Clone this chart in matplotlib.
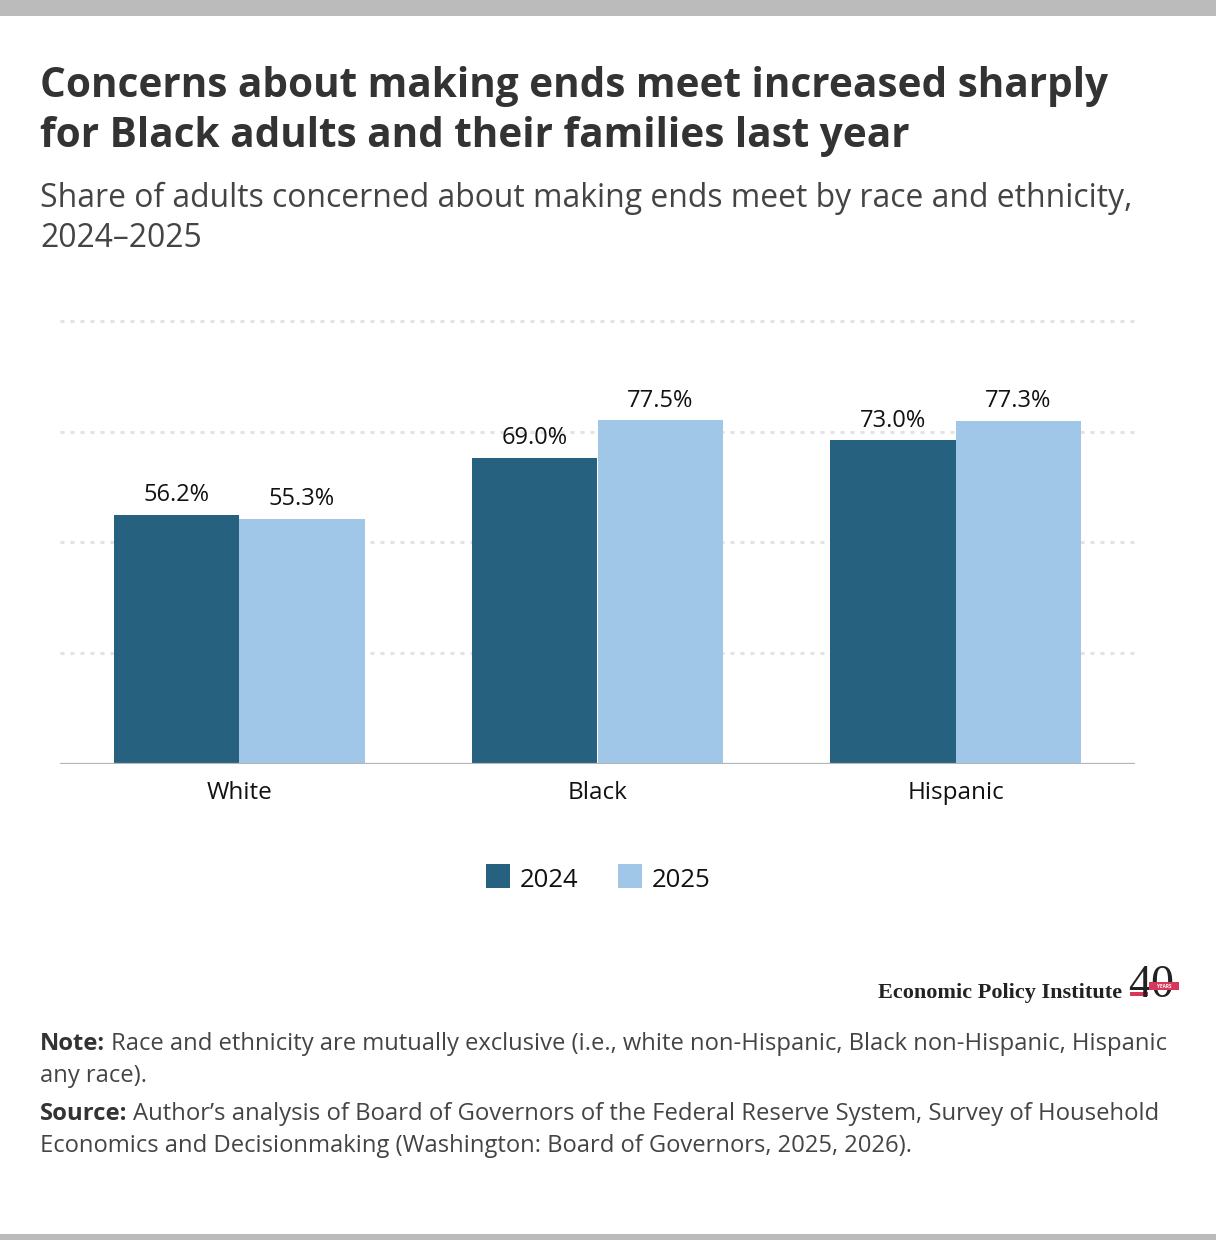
import matplotlib
matplotlib.use("Agg")
import matplotlib.pyplot as plt
from matplotlib.patches import Rectangle
import numpy as np

plt.rcParams['font.family'] = ['Open Sans', 'DejaVu Sans']
plt.rcParams['lines.scale_dashes'] = False

categories = ["White", "Black", "Hispanic"]
years = ["2024", "2025"]
values_2024 = [56.2, 69.0, 73.0]
values_2025 = [55.3, 77.5, 77.3]
yticks = [0, 25, 50, 75, 100]

C24 = "#26627f"
C25 = "#a0c6e8"
SERIF = ["Liberation Serif", "DejaVu Serif"]

W, H = 1216, 1240
fig = plt.figure(figsize=(W / 100, H / 100), dpi=100)
renderer = fig.canvas.get_renderer()


def fx(px):
    return px / W


def fy(py):
    return 1 - py / H


def fit(t, width_px):
    """Scale a text's font size so that it spans width_px; return the size."""
    w = t.get_window_extent(renderer).width
    t.set_fontsize(t.get_fontsize() * width_px / w)
    return t.get_fontsize()


# top / bottom gray bars
fig.add_artist(Rectangle((0, fy(16)), 1, 16 / H, transform=fig.transFigure, color="#bbbbbb", lw=0))
fig.add_artist(Rectangle((0, 0), 1, 6 / H, transform=fig.transFigure, color="#bbbbbb", lw=0))

# title
t1 = fig.text(fx(40), fy(97), "Concerns about making ends meet increased sharply", fontsize=26,
              fontweight="bold", color="#333333", va="baseline", ha="left")
ts = fit(t1, 1072)
fig.text(fx(40), fy(147), "for Black adults and their families last year", fontsize=ts,
         fontweight="bold", color="#333333", va="baseline", ha="left")
s1 = fig.text(fx(40), fy(207), "Share of adults concerned about making ends meet by race and ethnicity,",
              fontsize=19, color="#444444", va="baseline", ha="left")
ss = fit(s1, 1094)
fig.text(fx(40), fy(247), "2024\u20132025", fontsize=ss, color="#444444", va="baseline", ha="left")

# axes
ax_left, ax_right = 60, 1135
ax_top, ax_bottom = 319, 764
ax = fig.add_axes([fx(ax_left), fy(ax_bottom), (ax_right - ax_left) / W, (ax_bottom - ax_top) / H])
x = np.arange(len(categories))
bw = 0.35
b1 = ax.bar(x - bw / 2, values_2024, bw, color=C24, zorder=3, label=years[0])
b2 = ax.bar(x + bw / 2, values_2025, bw, color=C25, zorder=3, label=years[1])
ax.set_xlim(-0.5, 2.5)
ax.set_ylim(0, 100.4)
for t in yticks[1:]:
    ax.axhline(t, color="#e3e3e3", lw=2.2, linestyle=(0, (2.9, 4.3)), dash_capstyle="butt", zorder=1)
ax.axhline(0, color="#b5b5b5", lw=1.6, zorder=4)
for bars, vals in ((b1, values_2024), (b2, values_2025)):
    for rect, v in zip(bars, vals):
        ax.annotate(f"{v:.1f}%", (rect.get_x() + rect.get_width() / 2, v), xytext=(0, 10),
                    textcoords="offset points", ha="center", va="baseline", fontsize=17,
                    color="#111111")
for s in ax.spines.values():
    s.set_visible(False)
ax.set_yticks([])
ax.set_xticks(x)
ax.set_xticklabels(categories, fontsize=17.5, color="#111111")
ax.tick_params(axis="x", length=0, pad=12)

# legend
for sx, tx, lab, col in ((486, 520, years[0], C24), (618, 652, years[1], C25)):
    fig.add_artist(Rectangle((fx(sx), fy(888)), 24 / W, 24 / H, transform=fig.transFigure, color=col, lw=0))
    fig.text(fx(tx), fy(887), lab, fontsize=18.5, color="#111111", va="baseline", ha="left")

# logo
lg = fig.text(fx(1122), fy(998), "Economic Policy Institute", fontsize=16, fontweight="bold",
              family=SERIF, color="#222222", ha="right", va="baseline")
fit(lg, 245)
fig.add_artist(Rectangle((fx(1130), fy(996)), 18 / W, 4 / H, transform=fig.transFigure,
                         color="#d6375a", lw=0, zorder=1))
fig.text(fx(1151), fy(997), "40", fontsize=33, family=SERIF,
         color="#222222", ha="center", va="baseline", zorder=2)
fig.add_artist(Rectangle((fx(1149), fy(990)), 30 / W, 8 / H, transform=fig.transFigure,
                         color="#d6375a", lw=0, zorder=3))
fig.text(fx(1164), fy(988.5), "YEARS", fontsize=3.4, color="white", ha="center", va="baseline",
         fontweight="bold", zorder=4)


# notes
def mixed(px, py, bold, rest, right_px, size=14.5):
    t = fig.text(fx(px), fy(py), bold, fontsize=size, fontweight="bold", color="#333333",
                 va="baseline", ha="left")
    r = fig.text(fx(px), fy(py), rest, fontsize=size, color="#444444", va="baseline", ha="left")
    gap = 5
    total = t.get_window_extent(renderer).width + gap + r.get_window_extent(renderer).width
    k = (right_px - px) / total
    t.set_fontsize(size * k)
    r.set_fontsize(size * k)
    bb = t.get_window_extent(renderer)
    r.set_x((bb.x1 + gap * k) / W)
    return size * k


ns = mixed(40, 1050, "Note:", "Race and ethnicity are mutually exclusive (i.e., white non-Hispanic, Black non-Hispanic, Hispanic", 1166)
fig.text(fx(40), fy(1082), "any race).", fontsize=ns, color="#444444", va="baseline", ha="left")
mixed(40, 1120, "Source:", "Author\u2019s analysis of Board of Governors of the Federal Reserve System, Survey of Household", 1160)
fig.text(fx(40), fy(1152), "Economics and Decisionmaking (Washington: Board of Governors, 2025, 2026).",
         fontsize=ns, color="#444444", va="baseline", ha="left")

fig.savefig("out.png", dpi=100, facecolor="white")
